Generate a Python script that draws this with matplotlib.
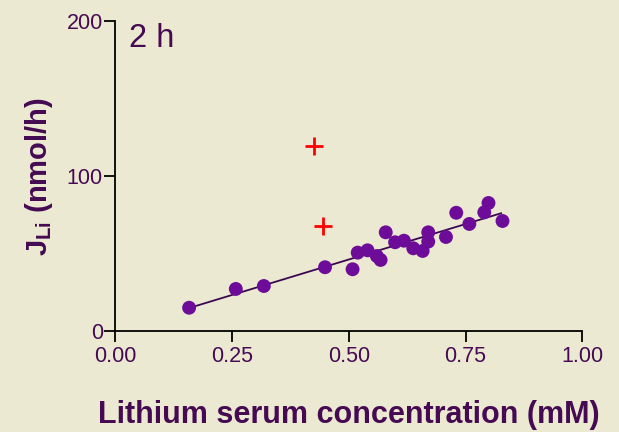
import numpy as np
import matplotlib
matplotlib.use('Agg')
from matplotlib import pyplot as plt

plt.rcParams['font.family'] = ['Liberation Sans', 'DejaVu Sans']
plt.rcParams['mathtext.fontset'] = 'custom'
plt.rcParams['mathtext.rm'] = 'Liberation Sans'
plt.rcParams['mathtext.bf'] = 'Liberation Sans:bold'

# Lithium serum concentration (mM) vs J_Li (nmol/h), 2 h
conc = [0.158, 0.258, 0.318, 0.449, 0.508, 0.519, 0.540, 0.560, 0.568, 0.579,
        0.599, 0.618, 0.638, 0.658, 0.670, 0.670, 0.708, 0.730, 0.758, 0.790,
        0.799, 0.829]
jli = [15.0, 27.1, 29.0, 41.1, 39.8, 50.5, 52.0, 48.3, 45.8, 63.6,
       57.2, 58.2, 53.3, 51.6, 57.6, 63.6, 60.6, 76.2, 69.0, 76.5,
       82.5, 70.9]

# excluded points (red crosses)
out_conc = [0.4255, 0.445]
out_jli = [119.2, 67.7]

# regression line end points
fit_x = [0.16, 0.826]
fit_y = [15.0, 75.9]

bg = '#ECE9D2'
txt = '#450A52'

fig = plt.figure(figsize=(6.19, 4.32), dpi=100, facecolor=bg)
ax = fig.add_axes([0.1863, 0.2338, 0.7545, 0.7183], facecolor=bg)

ax.plot(fit_x, fit_y, color='#3A0850', lw=1.3, zorder=2)
ax.scatter(conc, jli, s=100, color='#6C0C98', edgecolors='none', zorder=3)
ax.scatter(out_conc, out_jli, s=170, marker='+', color='#FF0000', linewidths=2, zorder=3)

ax.set_xlim(0, 1)
ax.set_ylim(0, 200)
ax.set_xticks([0, 0.25, 0.5, 0.75, 1.0])
ax.set_xticklabels(['0.00', '0.25', '0.50', '0.75', '1.00'])
ax.set_yticks([0, 100, 200])

for s in ['top', 'right']:
    ax.spines[s].set_visible(False)
for s in ['left', 'bottom']:
    ax.spines[s].set_linewidth(1.3)
    ax.spines[s].set_color('black')

ax.tick_params(axis='both', length=8, width=1.3, color='black',
               labelcolor=txt, labelsize=15.5)
ax.tick_params(axis='x', pad=3)
ax.tick_params(axis='y', pad=1)

# axis titles placed in figure coords
fig.text(0.5638, 0.021, 'Lithium serum concentration (mM)', fontsize=22,
         fontweight='bold', color=txt, ha='center', va='baseline')
fig.text(0.0635, 0.5914, r'$\mathbf{J_{Li}}$ (nmol/h)', fontsize=21,
         fontweight='bold', color=txt, ha='center', va='center', rotation=90)

ax.text(0.03, 183.2, '2 h', fontsize=23.5, color=txt, va='baseline', ha='left')

fig.savefig('out.png', dpi=100, facecolor=bg)
